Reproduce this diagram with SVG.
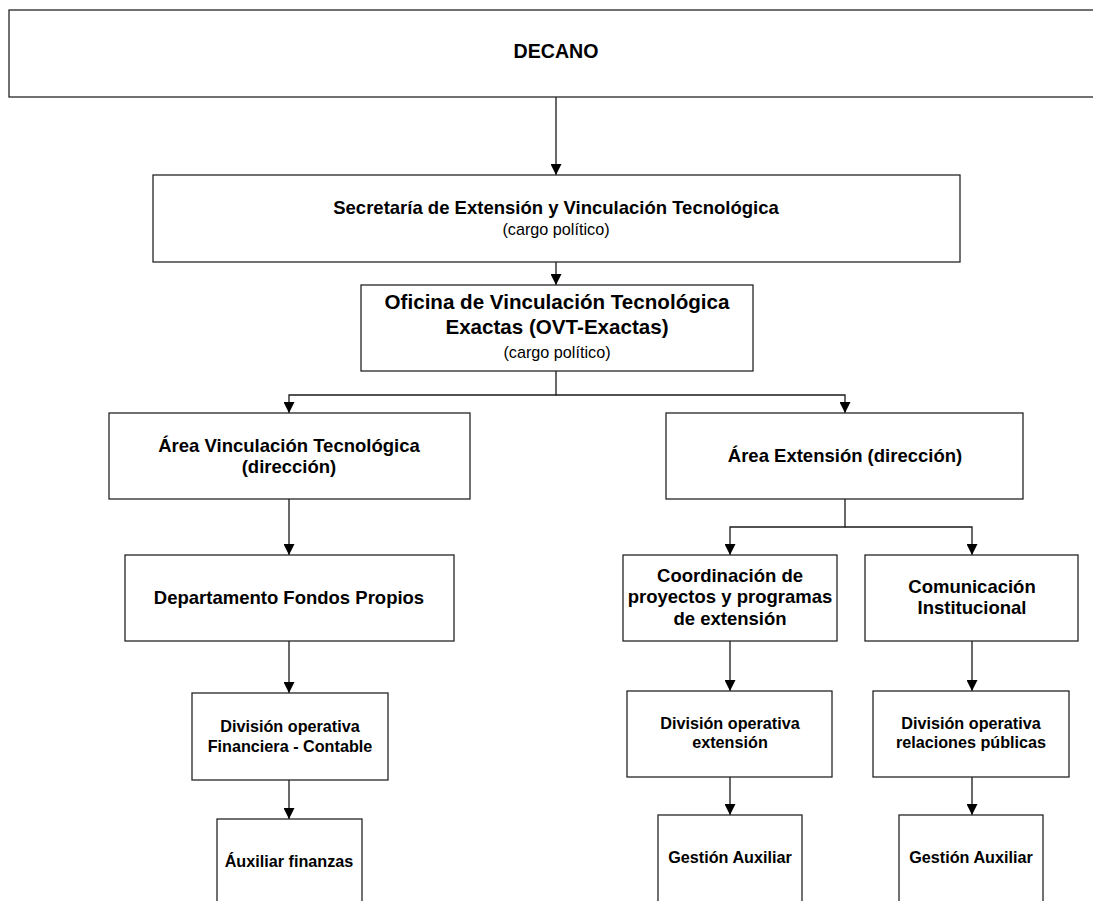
<svg xmlns="http://www.w3.org/2000/svg" width="1093" height="901" viewBox="0 0 1093 901">
<style>
.box{fill:#fff;stroke:#262626;stroke-width:1.3}
.t{font-family:"Liberation Sans",Arial,sans-serif;font-weight:bold;fill:#000;text-anchor:middle}
.b18{font-size:18.5px}
.b19{font-size:19.6px}
.b20{font-size:20.6px}
.b16{font-size:16.2px}
.n16{font-family:"Liberation Sans",Arial,sans-serif;font-size:16.2px;font-weight:normal;fill:#000;text-anchor:middle}
.c{fill:none;stroke:#1a1a1a;stroke-width:1.3}
</style>
<defs>
<marker id="ah" viewBox="0 0 11 11" refX="11" refY="5.5" markerWidth="11" markerHeight="11" markerUnits="userSpaceOnUse" orient="auto">
<path d="M0,0 L11,5.5 L0,11 z" fill="#000"/>
</marker>
</defs>
<rect width="1093" height="901" fill="#fff"/>
<g id="connectors">
<path class="c" d="M556,97 V175" marker-end="url(#ah)"/>
<path class="c" d="M556,262 V285" marker-end="url(#ah)"/>
<path class="c" d="M556,371 V395 H289 V413" marker-end="url(#ah)"/>
<path class="c" d="M556,395 H845 V413" marker-end="url(#ah)"/>
<path class="c" d="M289,499 V555" marker-end="url(#ah)"/>
<path class="c" d="M289,641 V693" marker-end="url(#ah)"/>
<path class="c" d="M289,780 V819" marker-end="url(#ah)"/>
<path class="c" d="M845,499 V527 H730 V555" marker-end="url(#ah)"/>
<path class="c" d="M845,527 H972 V555" marker-end="url(#ah)"/>
<path class="c" d="M730,641 V691" marker-end="url(#ah)"/>
<path class="c" d="M972,641 V691" marker-end="url(#ah)"/>
<path class="c" d="M730,777 V815" marker-end="url(#ah)"/>
<path class="c" d="M972,777 V815" marker-end="url(#ah)"/>
</g>
<g id="decano">
<rect class="box" x="9" y="10" width="1100" height="87"/>
<text class="t b19" x="556" y="58">DECANO</text>
</g>
<g id="secretaria">
<rect class="box" x="153" y="175" width="807" height="87"/>
<text class="t b18" x="556" y="214">Secretaría de Extensión y Vinculación Tecnológica</text>
<text class="n16" x="556" y="235">(cargo político)</text>
</g>
<g id="oficina">
<rect class="box" x="361" y="285" width="392" height="86"/>
<text class="t b20" x="557" y="309">Oficina de Vinculación Tecnológica</text>
<text class="t b20" x="557" y="334">Exactas (OVT-Exactas)</text>
<text class="n16" x="557" y="358">(cargo político)</text>
</g>
<g id="area-vinculacion">
<rect class="box" x="109" y="413" width="361" height="86"/>
<text class="t b18" x="289" y="452">Área Vinculación Tecnológica</text>
<text class="t b18" x="289" y="473">(dirección)</text>
</g>
<g id="area-extension">
<rect class="box" x="666" y="413" width="357" height="86"/>
<text class="t b18" x="845" y="462">Área Extensión (dirección)</text>
</g>
<g id="departamento">
<rect class="box" x="125" y="555" width="329" height="86"/>
<text class="t b18" x="289" y="604">Departamento Fondos Propios</text>
</g>
<g id="coordinacion">
<rect class="box" x="623" y="555" width="214" height="86"/>
<text class="t b18" x="730" y="582">Coordinación de</text>
<text class="t b18" x="730" y="603">proyectos y programas</text>
<text class="t b18" x="730" y="625">de extensión</text>
</g>
<g id="comunicacion">
<rect class="box" x="865" y="555" width="213" height="86"/>
<text class="t b18" x="972" y="593">Comunicación</text>
<text class="t b18" x="972" y="614">Institucional</text>
</g>
<g id="division-financiera">
<rect class="box" x="192" y="693" width="196" height="87"/>
<text class="t b16" x="290" y="732">División operativa</text>
<text class="t b16" x="290" y="752">Financiera - Contable</text>
</g>
<g id="division-extension">
<rect class="box" x="627" y="691" width="205" height="86"/>
<text class="t b16" x="730" y="729">División operativa</text>
<text class="t b16" x="730" y="748">extensión</text>
</g>
<g id="division-relaciones">
<rect class="box" x="873" y="691" width="196" height="86"/>
<text class="t b16" x="971" y="729">División operativa</text>
<text class="t b16" x="971" y="748">relaciones públicas</text>
</g>
<g id="auxiliar-finanzas">
<rect class="box" x="217" y="819" width="145" height="110"/>
<text class="t b16" x="289" y="867">Áuxiliar finanzas</text>
</g>
<g id="gestion-auxiliar-1">
<rect class="box" x="658" y="815" width="144" height="110"/>
<text class="t b16" x="730" y="863">Gestión Auxiliar</text>
</g>
<g id="gestion-auxiliar-2">
<rect class="box" x="899" y="815" width="144" height="110"/>
<text class="t b16" x="971" y="863">Gestión Auxiliar</text>
</g>
</svg>
